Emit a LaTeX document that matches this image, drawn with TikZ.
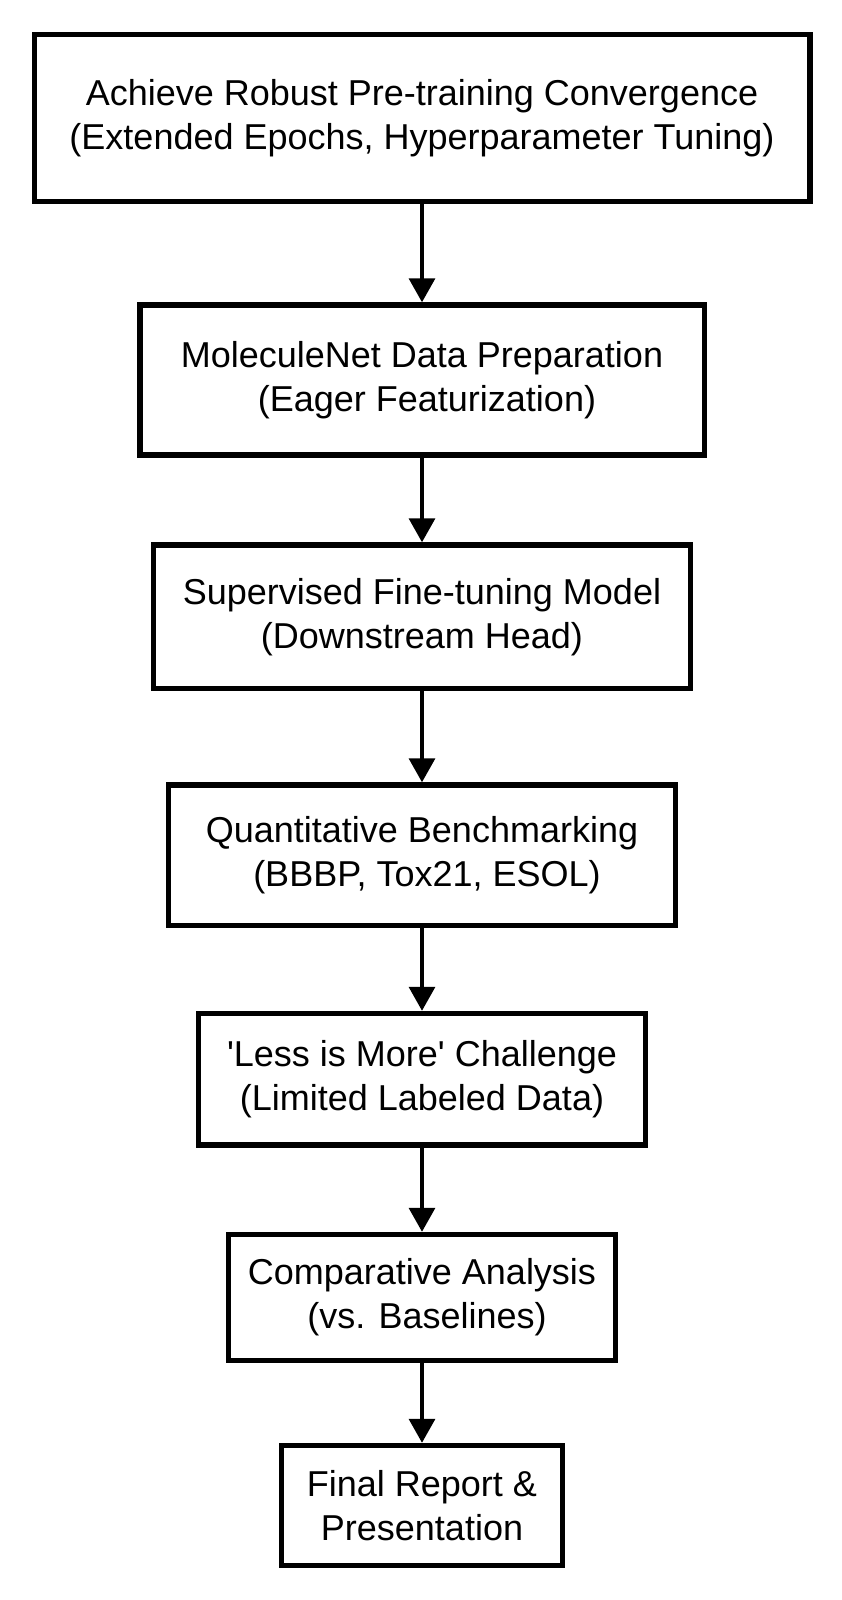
\documentclass[tikz,border=0pt]{standalone}
\usepackage{fontspec}
\setmainfont{Liberation Sans}
\usetikzlibrary{arrows.meta}
\begin{document}
\begin{tikzpicture}[x=0.5pt,y=-0.5pt,
  box/.style={draw=black, line width=2.75pt, rectangle, inner sep=0pt, align=center,
    font=\fontsize{18}{22}\selectfont},
  conn/.style={draw=black, line width=1.75pt, -{Triangle[width=13pt,length=12pt]}}]
\path[use as bounding box] (0,0) rectangle (841,1600);
\fill[white] (0,0) rectangle (841,1600);
\node[box, minimum width=387.75pt, minimum height=83.5pt] (n1) at (422,118)
  {Achieve Robust Pre-training Convergence\\(Extended Epochs, Hyperparameter Tuning)};
\node[box, minimum width=282.25pt, minimum height=75pt] (n2) at (422,380)
  {MoleculeNet Data Preparation\\\mbox{}\hspace*{0.278em}(Eager Featurization)};
\node[box, minimum width=268.5pt, minimum height=71.75pt] (n3) at (422,616.75)
  {Supervised Fine-tuning Model\\(Downstream Head)};
\node[box, minimum width=253.5pt, minimum height=70.25pt] (n4) at (422,855.25)
  {Quantitative Benchmarking\\\mbox{}\hspace*{0.278em}(BBBP, Tox21, ESOL)};
\node[box, minimum width=223.5pt, minimum height=65.75pt] (n5) at (422,1079.25)
  {\textquotesingle Less is More\textquotesingle{} Challenge\\(Limited Labeled Data)};
\node[box, minimum width=193.5pt, minimum height=63pt] (n6) at (422,1297.5)
  {Comparative Analysis\\\mbox{}\hspace*{0.278em}(vs. Baselines)};
\node[box, minimum width=140.5pt, minimum height=60pt] (n7) at (422,1505.5)
  {Final Report \&\\Presentation};
\draw[conn] (n1.south) -- (n2.north);
\draw[conn] (n2.south) -- (n3.north);
\draw[conn] (n3.south) -- (n4.north);
\draw[conn] (n4.south) -- (n5.north);
\draw[conn] (n5.south) -- (n6.north);
\draw[conn] (n6.south) -- (n7.north);
\end{tikzpicture}
\end{document}
